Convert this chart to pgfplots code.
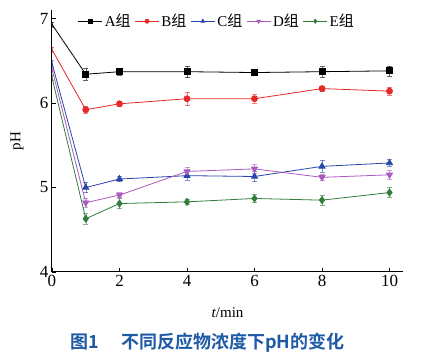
\documentclass[border=0pt]{standalone}
\usepackage{pgfplots}
\pgfplotsset{compat=1.18}
\usepackage{fontspec}
\setmainfont{Liberation Serif}
\newfontfamily\cjk{Noto Sans CJK SC}
\newfontfamily\cjkb{Noto Sans CJK SC}[BoldFont={* Bold}]
\definecolor{cA}{RGB}{0,0,0}
\definecolor{cB}{RGB}{230,40,40}
\definecolor{cC}{RGB}{40,70,170}
\definecolor{cD}{RGB}{170,90,190}
\definecolor{cE}{RGB}{50,125,60}
\definecolor{capblue}{RGB}{30,90,165}
\pgfplotstableread{
t y e
0 6.93 0.03
1 6.34 0.07
2 6.37 0.04
4 6.37 0.07
6 6.36 0.03
8 6.37 0.06
10 6.38 0.06
}\dA
\pgfplotstableread{
t y e
0 6.63 0.03
1 5.92 0.04
2 5.99 0.03
4 6.05 0.08
6 6.05 0.05
8 6.17 0.03
10 6.14 0.05
}\dB
\pgfplotstableread{
t y e
0 6.47 0.03
1 5.00 0.06
2 5.10 0.03
4 5.14 0.05
6 5.13 0.06
8 5.25 0.07
10 5.29 0.04
}\dC
\pgfplotstableread{
t y e
0 6.40 0.03
1 4.82 0.05
2 4.91 0.03
4 5.19 0.05
6 5.22 0.05
8 5.12 0.04
10 5.15 0.05
}\dD
\pgfplotstableread{
t y e
0 6.30 0.03
1 4.63 0.06
2 4.81 0.06
4 4.83 0.03
6 4.87 0.05
8 4.85 0.06
10 4.94 0.06
}\dE
\begin{document}
\begin{tikzpicture}[x=1pt,y=1pt]
\useasboundingbox (-52pt,-83pt) rectangle (373pt,272pt);
\begin{axis}[
  at={(0pt,0pt)}, anchor=origin,
  scale only axis, width=351pt, height=262pt,
  xmin=0, xmax=10.4, ymin=4, ymax=7.1,
  axis x line=bottom, axis y line=left,
  axis line style={-, line width=1pt},
  xtick={0,2,...,10}, ytick={4,5,6,7},
  tick align=inside, major tick length=4pt,
  tick style={line width=0.8pt, black},
  tick label style={font=\fontsize{17}{17}\selectfont},
  /pgf/number format/assume math mode=true,
  xlabel={\fontsize{15}{15}\selectfont\textit{t}/min},
  ylabel={\fontsize{15}{15}\selectfont pH},
  xlabel style={at={(0.5,0)}, anchor=north, yshift=-32pt},
  ylabel style={at={(0,0.5)}, anchor=south, yshift=25pt},
  legend style={draw=none, fill=none, at={(0.065,1.0)}, anchor=north west,
    font=\fontsize{15}{15}\selectfont, legend columns=5,
    /tikz/every even column/.append style={column sep=2pt}},
  legend cell align=left,
  legend image code/.code={\draw[#1, mark size=2pt, mark indices={2}] plot coordinates {(0pt,0pt) (12pt,0pt) (24pt,0pt)};},
  every axis plot/.append style={line width=0.8pt, mark size=3pt, mark indices={2,3,4,5,6,7},
    error bars/error bar style={line width=0.5pt, opacity=0.6},
    error bars/error mark options={rotate=90, mark size=2.5pt, line width=0.5pt}},
]
\addplot[cA, mark=square*, error bars/.cd, y dir=both, y explicit] table[x=t,y=y,y error=e]{\dA};
\addlegendentry{A{\cjk 组}}
\addplot[cB, mark=*, error bars/.cd, y dir=both, y explicit] table[x=t,y=y,y error=e]{\dB};
\addlegendentry{B{\cjk 组}}
\addplot[cC, mark=triangle*, mark size=3.5pt, error bars/.cd, y dir=both, y explicit] table[x=t,y=y,y error=e]{\dC};
\addlegendentry{C{\cjk 组}}
\addplot[cD, mark=triangle*, mark size=3.5pt, mark options={rotate=180}, error bars/.cd, y dir=both, y explicit] table[x=t,y=y,y error=e]{\dD};
\addlegendentry{D{\cjk 组}}
\addplot[cE, mark=diamond*, mark size=3.5pt, error bars/.cd, y dir=both, y explicit] table[x=t,y=y,y error=e]{\dE};
\addlegendentry{E{\cjk 组}}
\end{axis}
\node[anchor=base west, text=capblue, font={\cjkb\bfseries\fontsize{18}{18}\selectfont}] at (15pt,-77pt) {图1\hspace{22pt}不同反应物浓度下pH的变化};
\end{tikzpicture}
\end{document}
